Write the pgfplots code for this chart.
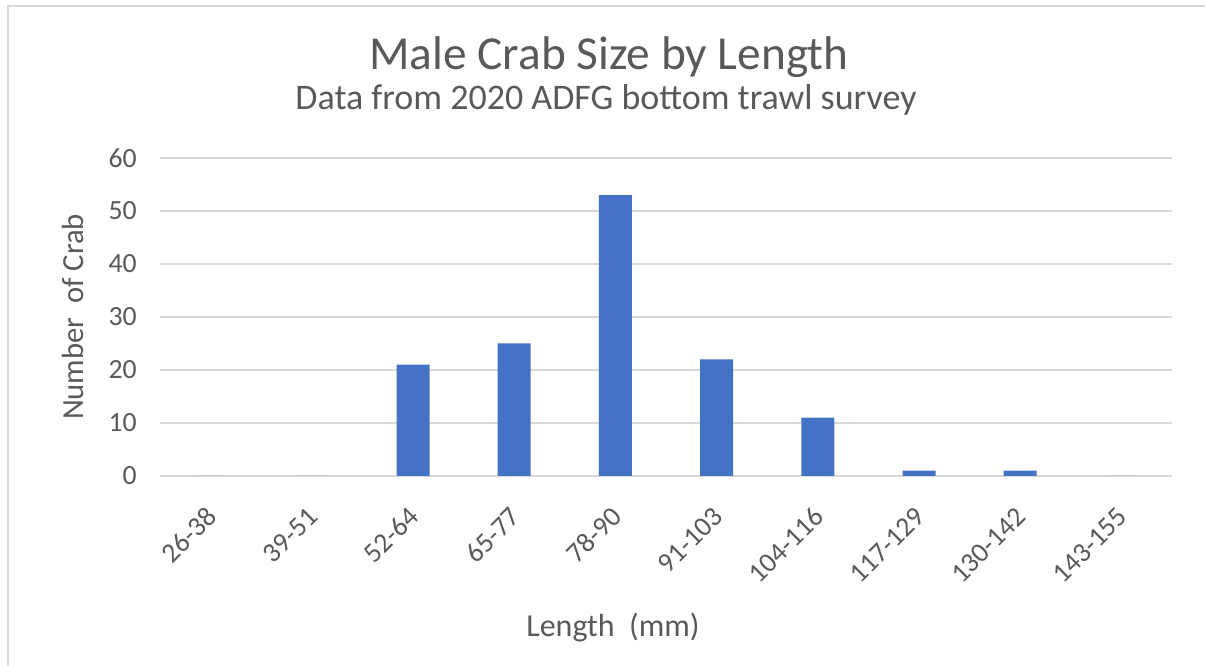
\documentclass[border=0pt]{standalone}
\usepackage{fontspec}
\setmainfont{Carlito}
\usepackage{pgfplots}
\pgfplotsset{compat=1.18}
\definecolor{txt}{HTML}{595959}
\definecolor{gridc}{HTML}{D9D9D9}
\definecolor{barc}{HTML}{4472C4}
\definecolor{framec}{HTML}{D9D9D9}
\begin{document}
\begin{tikzpicture}
\path[use as bounding box] (0,0) rectangle (903.75pt,499.5pt);
\draw[framec, line width=1.2pt] (6pt,0) -- (6pt,495pt) -- (903.75pt,495pt);
\begin{axis}[
  at={(120pt,142.5pt)}, anchor=south west,
  scale only axis,
  width=759pt, height=238.5pt,
  xmin=-0.5, xmax=9.5,
  ymin=0, ymax=60,
  ytick={0,10,...,60},
  xtick={0,...,9},
  xticklabels={26-38,39-51,52-64,65-77,78-90,91-103,104-116,117-129,130-142,143-155},
  axis line style={draw=none},
  major tick length=0pt,
  xmajorgrids=false,
  ymajorgrids=true,
  major grid style={draw=gridc, line width=1.1pt},
  tick label style={font=\fontsize{20.8pt}{24pt}\selectfont, text=txt},
  /pgf/number format/assume math mode=true,
  yticklabel style={anchor=east, xshift=-14pt},
  xticklabel style={xshift=1pt, yshift=-27pt, rotate=45, anchor=east, inner sep=0pt},
  clip=false,
]
\addplot[ybar, bar width=24.75pt, fill=barc, draw=none] coordinates {
(0,0) (1,0) (2,21) (3,25) (4,53) (5,22) (6,11) (7,1) (8,1) (9,0)
};
\end{axis}
\node[anchor=base, text=txt, font=\fontsize{35.5pt}{40pt}\selectfont] at (456.75pt,447pt) {Male Crab Size by Length};
\node[anchor=base, text=txt, font=\fontsize{27pt}{31pt}\selectfont] at (454.5pt,417pt) {Data from 2020 ADFG bottom trawl survey};
\node[anchor=base, text=txt, font=\fontsize{24pt}{28pt}\selectfont] at (459.75pt,21.75pt) {Length\ \ (mm)};
\node[rotate=90, text=txt, font=\fontsize{23pt}{27pt}\selectfont] at (54.75pt,261.75pt) {Number\ \ of Crab};
\end{tikzpicture}
\end{document}
